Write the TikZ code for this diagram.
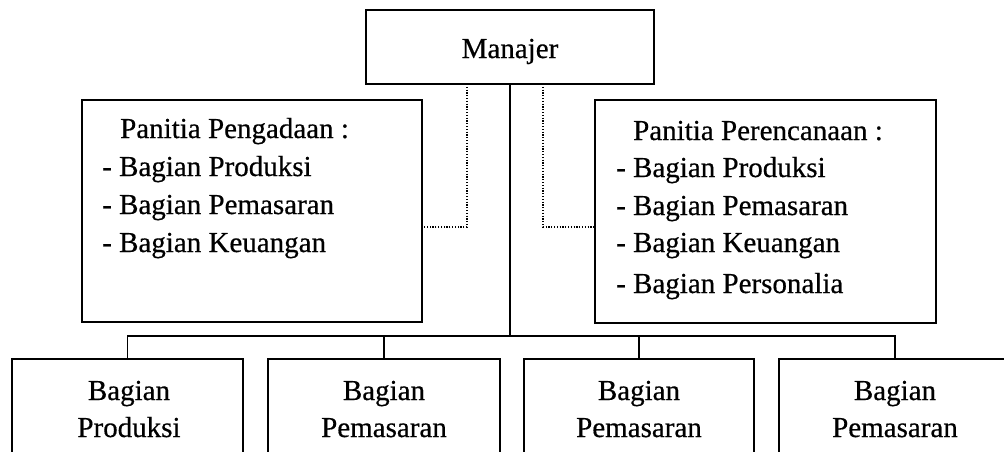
\documentclass[tikz,border=0pt]{standalone}
\usepackage{fontspec}
\setmainfont{Liberation Serif}[BoldFont=Liberation Serif,BoldFeatures={FakeBold=0.5}]
\begin{document}
\begin{tikzpicture}[x=1pt,y=-1pt,
  box/.style={draw,line width=1.5pt,rectangle,inner sep=0pt,outer sep=0pt},
  txt/.style={anchor=base west,inner sep=0pt,font=\fontsize{29}{37}\selectfont\bfseries},
  ctxt/.style={anchor=base,inner sep=0pt,font=\fontsize{29}{37}\selectfont\bfseries},
  link/.style={line width=1.5pt},
  dots/.style={line width=1.2pt,dash pattern=on 1.2pt off 1.6pt}]
\useasboundingbox (0,0) rectangle (1004,451);
\clip (0,0) rectangle (1004,451);

% manager
\node[box,minimum width=288pt,minimum height=74pt] (manajer) at (510,47) {};
\node[ctxt] (tman) at (510,58) {Manajer};

% committees
\node[box,minimum width=340pt,minimum height=222pt] (left) at (252,211) {};
\node[txt] (l0) at (120,138) {Panitia Pengadaan :};
\node[txt] (l1) at (102,176) {- Bagian Produksi};
\node[txt] (l2) at (102,214) {- Bagian Pemasaran};
\node[txt] (l3) at (102,252) {- Bagian Keuangan};

\node[box,minimum width=341pt,minimum height=223pt] (right) at (765.5,211.5) {};
\node[txt] (r0) at (633,140) {Panitia Perencanaan :};
\node[txt] (r1) at (616,177) {- Bagian Produksi};
\node[txt] (r2) at (616,215) {- Bagian Pemasaran};
\node[txt] (r3) at (616,252) {- Bagian Keuangan};
\node[txt] (r4) at (616,293) {- Bagian Personalia};

% departments
\node[box,minimum width=231pt,minimum height=120pt] (b1) at (127.5,419) {};
\node[box,minimum width=232pt,minimum height=120pt] (b2) at (384,419) {};
\node[box,minimum width=230pt,minimum height=120pt] (b3) at (639,419) {};
\node[box,minimum width=232pt,minimum height=120pt] (b4) at (895,419) {};
\node[ctxt] (t1a) at (129,400) {Bagian};
\node[ctxt] (t1b) at (129,437) {Produksi};
\node[ctxt] (t2a) at (384,400) {Bagian};
\node[ctxt] (t2b) at (384,437) {Pemasaran};
\node[ctxt] (t3a) at (639,400) {Bagian};
\node[ctxt] (t3b) at (639,437) {Pemasaran};
\node[ctxt] (t4a) at (895,400) {Bagian};
\node[ctxt] (t4b) at (895,437) {Pemasaran};

% solid tree
\coordinate (bar) at (510,336);
\draw[link] (manajer.south) -- (bar);
\draw[link] (b1.north) |- (bar) -| (b4.north);
\draw[link] (b2.north) -- (b2.north |- bar);
\draw[link] (b3.north) -- (b3.north |- bar);

% dotted staff links
\coordinate (dl) at (467,227);
\coordinate (dr) at (543,227);
\draw[dots] (manajer.south -| dl) -- (dl) -- (dl -| left.east);
\draw[dots] (manajer.south -| dr) -- (dr) -- (dr -| right.west);
\end{tikzpicture}
\end{document}
